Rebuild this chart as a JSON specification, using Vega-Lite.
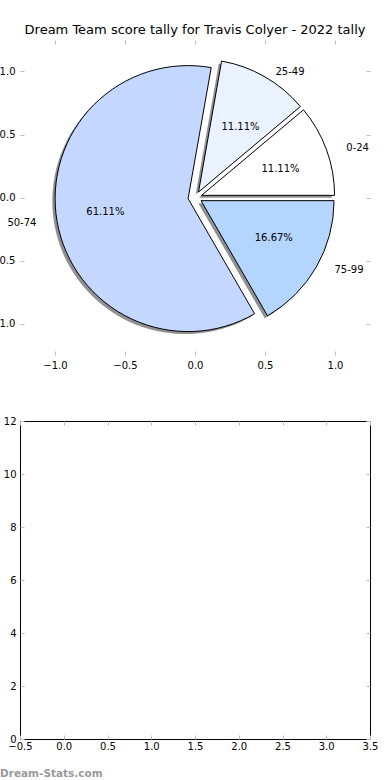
{
  "$schema": "https://vega.github.io/schema/vega-lite/v6.json",
  "autosize": {"type": "pad"},
  "padding": {"left": -10, "top": 23, "right": 20, "bottom": 4},
  "bounds": "flush",
  "spacing": 66,
  "config": {
    "font": "DejaVu Sans",
    "axis": {
      "labelFont": "DejaVu Sans",
      "labelFontSize": 10,
      "labelColor": "#000",
      "tickColor": "#bdbdbd",
      "tickSize": -4,
      "tickWidth": 1,
      "domain": false,
      "grid": false,
      "title": null,
      "labelPadding": 9,
      "labelFlush": false,
      "labelOverlap": false
    },
    "title": {"font": "DejaVu Sans", "fontSize": 13, "fontWeight": "normal", "color": "#000"}
  },
  "vconcat": [
    {
      "width": 350,
      "height": 315,
      "view": {"stroke": null},
      "title": {"text": "Dream Team score tally for Travis Colyer - 2022 tally", "anchor": "middle", "offset": 3},
      "data": {"values": [
        {"range": "0-24", "count": 2, "order": 1},
        {"range": "25-49", "count": 2, "order": 2},
        {"range": "50-74", "count": 11, "order": 3},
        {"range": "75-99", "count": 3, "order": 4}
      ]},
      "transform": [
        {"joinaggregate": [{"op": "sum", "field": "count", "as": "total"}]},
        {"window": [{"op": "sum", "field": "count", "as": "cum"}], "sort": [{"field": "order"}], "frame": [null, 0]},
        {"calculate": "2*PI*(datum.cum-datum.count)/datum.total", "as": "a0"},
        {"calculate": "2*PI*datum.cum/datum.total", "as": "a1"},
        {"calculate": "(datum.a0+datum.a1)/2", "as": "am"},
        {"calculate": "0.05*cos(datum.am)", "as": "cx"},
        {"calculate": "0.05*sin(datum.am)", "as": "cy"},
        {"calculate": "PI/2-datum.a0", "as": "t0"},
        {"calculate": "PI/2-datum.a1", "as": "t1"},
        {"calculate": "datum.cx+1.1*cos(datum.am)", "as": "lx"},
        {"calculate": "datum.cy+1.1*sin(datum.am)", "as": "ly"},
        {"calculate": "datum.cx+0.6*cos(datum.am)", "as": "px"},
        {"calculate": "datum.cy+0.6*sin(datum.am)", "as": "py"},
        {"calculate": "datum.count/datum.total", "as": "pct"}
      ],
      "layer": [
        {
          "mark": {"type": "arc", "radius": 133, "fill": "#222", "opacity": 0.5, "xOffset": -2.8, "yOffset": 2.5},
          "encoding": {
            "x": {"field": "cx", "type": "quantitative", "scale": {"domain": [-1.25, 1.25], "nice": false, "zero": false}, "axis": {"orient": "bottom", "values": [-1, -0.5, 0, 0.5, 1], "format": ".1f"}},
            "y": {"field": "cy", "type": "quantitative", "scale": {"domain": [-1.25, 1.25], "nice": false, "zero": false}, "axis": {"orient": "left", "values": [-1, -0.5, 0, 0.5, 1], "format": ".1f"}},
            "theta": {"field": "t0", "type": "quantitative", "scale": null},
            "theta2": {"field": "t1"}
          }
        },
        {
          "mark": {"type": "arc", "radius": 133, "stroke": "#000", "strokeWidth": 1},
          "encoding": {
            "x": {"field": "cx", "type": "quantitative", "axis": {"orient": "top", "values": [-1, -0.5, 0, 0.5, 1], "labels": false}},
            "y": {"field": "cy", "type": "quantitative", "axis": {"orient": "right", "values": [-1, -0.5, 0, 0.5, 1], "labels": false}},
            "theta": {"field": "t0", "type": "quantitative", "scale": null},
            "theta2": {"field": "t1"},
            "color": {"field": "range", "type": "nominal", "scale": {"domain": ["0-24", "25-49", "50-74", "75-99"], "range": ["#ffffff", "#ebf2ff", "#c4d8ff", "#b3d5ff"]}, "legend": null}
          }
        },
        {
          "transform": [{"filter": "datum.lx > 0"}],
          "mark": {"type": "text", "align": "left", "baseline": "middle", "fontSize": 10, "font": "DejaVu Sans", "color": "#000"},
          "encoding": {
            "x": {"field": "lx", "type": "quantitative", "axis": null},
            "y": {"field": "ly", "type": "quantitative", "axis": null},
            "text": {"field": "range"}
          }
        },
        {
          "transform": [{"filter": "datum.lx <= 0"}],
          "mark": {"type": "text", "align": "right", "baseline": "middle", "fontSize": 10, "font": "DejaVu Sans", "color": "#000"},
          "encoding": {
            "x": {"field": "lx", "type": "quantitative", "axis": null},
            "y": {"field": "ly", "type": "quantitative", "axis": null},
            "text": {"field": "range"}
          }
        },
        {
          "mark": {"type": "text", "align": "center", "baseline": "middle", "fontSize": 10, "font": "DejaVu Sans", "color": "#000"},
          "encoding": {
            "x": {"field": "px", "type": "quantitative", "axis": null},
            "y": {"field": "py", "type": "quantitative", "axis": null},
            "text": {"field": "pct", "type": "quantitative", "format": ".2%"}
          }
        }
      ],
      "resolve": {"axis": {"x": "independent", "y": "independent"}}
    },
    {
      "width": 350,
      "height": 318,
      "view": {"stroke": "#000", "strokeWidth": 1},
      "title": {"text": "Dream-Stats.com", "orient": "bottom", "anchor": "start", "frame": "group", "dx": -20, "offset": 18, "fontSize": 10.5, "fontWeight": "bold", "color": "#9a9a9a"},
      "data": {"values": []},
      "layer": [
        {
          "mark": "point",
          "encoding": {
            "x": {"field": "x", "type": "quantitative", "scale": {"domain": [-0.5, 3.5], "nice": false, "zero": false}, "axis": {"orient": "bottom", "values": [-0.5, 0, 0.5, 1, 1.5, 2, 2.5, 3, 3.5], "format": ".1f", "labelPadding": 6}},
            "y": {"field": "y", "type": "quantitative", "scale": {"domain": [0, 12], "nice": false, "zero": false}, "axis": {"orient": "left", "values": [0, 2, 4, 6, 8, 10, 12], "format": "d", "labelPadding": 8}}
          }
        },
        {
          "mark": "point",
          "encoding": {
            "x": {"field": "x", "type": "quantitative", "axis": {"orient": "top", "values": [-0.5, 0, 0.5, 1, 1.5, 2, 2.5, 3, 3.5], "labels": false}},
            "y": {"field": "y", "type": "quantitative", "axis": {"orient": "right", "values": [0, 2, 4, 6, 8, 10, 12], "labels": false}}
          }
        }
      ],
      "resolve": {"axis": {"x": "independent", "y": "independent"}}
    }
  ]
}
